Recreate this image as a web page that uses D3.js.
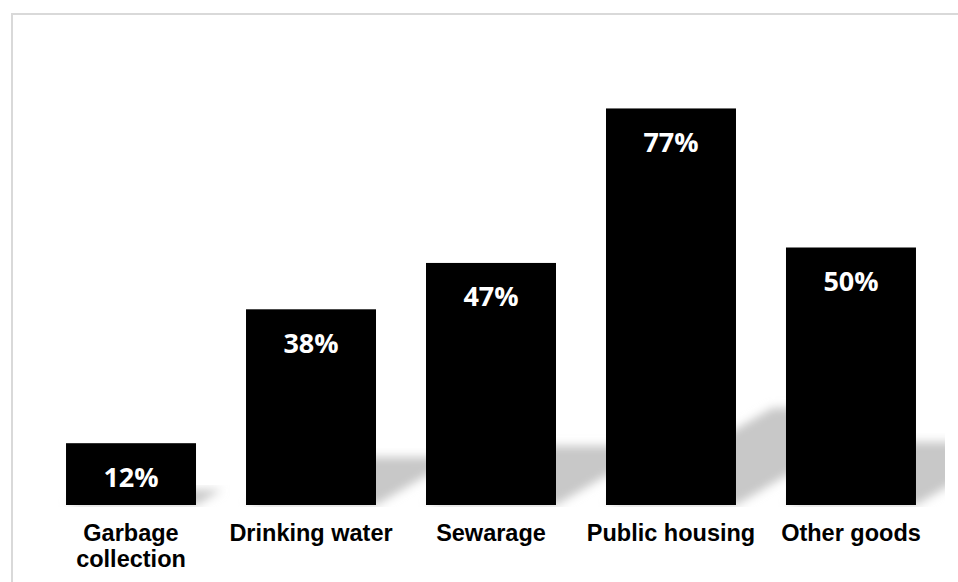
<!DOCTYPE html>
<html>
<head>
<meta charset="utf-8">
<script src="https://cdn.jsdelivr.net/npm/d3@7"></script>
<style>
  html, body { margin: 0; padding: 0; background: #fff; overflow: hidden; }
  svg { display: block; }
</style>
</head>
<body>
<svg id="chart" width="958" height="582"></svg>
<script>
const categories = ["Garbage collection", "Drinking water", "Sewarage", "Public housing", "Other goods"];
const categoryLines = [["Garbage", "collection"], ["Drinking water"], ["Sewarage"], ["Public housing"], ["Other goods"]];
const values = [12, 38, 47, 77, 50];
const valueLabels = ["12%", "38%", "47%", "77%", "50%"];

const svg = d3.select("#chart");
const W = 958, H = 582;

// outer frame
svg.append("rect")
  .attr("x", 12).attr("y", 14)
  .attr("width", 1000).attr("height", 1000)
  .attr("fill", "none")
  .attr("stroke", "#d9d9d9")
  .attr("stroke-width", 2);

const base = 505;
const x = d3.scaleBand()
  .domain(categories)
  .range([41, 941])
  .paddingInner(0.2778)
  .paddingOuter(0.139);
const y = d3.scaleLinear().domain([0, 80]).range([base, base - 412]);

const defs = svg.append("defs");
const f = defs.append("filter").attr("id", "blur")
  .attr("x", "-30%").attr("y", "-30%").attr("width", "160%").attr("height", "160%");
f.append("feGaussianBlur").attr("stdDeviation", 5);
defs.append("clipPath").attr("id", "plotclip")
  .append("rect").attr("x", 20).attr("y", 20).attr("width", 925).attr("height", base - 18);

// perspective shadows
const shadowG = svg.append("g").attr("clip-path", "url(#plotclip)");
shadowG.selectAll("path.shadow")
  .data(categories)
  .join("path")
  .attr("class", "shadow")
  .attr("fill", "#c8c8c8")
  .attr("filter", "url(#blur)")
  .attr("d", (c, i) => {
    const x0 = x(c), x1 = x(c) + x.bandwidth();
    const h = base - y(values[i]);
    const dy = 0.245 * h, dx = 0.42 * h;
    return `M${x0},${base}L${x1},${base}L${x1 + dx},${base - dy}L${x0 + dx},${base - dy}Z`;
  });

// bars
svg.selectAll("rect.bar")
  .data(categories)
  .join("rect")
  .attr("class", "bar")
  .attr("x", c => x(c))
  .attr("width", x.bandwidth())
  .attr("y", (c, i) => y(values[i]))
  .attr("height", (c, i) => base - y(values[i]))
  .attr("fill", "#000");

// value labels
svg.selectAll("text.val")
  .data(categories)
  .join("text")
  .attr("class", "val")
  .attr("x", c => x(c) + x.bandwidth() / 2)
  .attr("y", (c, i) => y(values[i]) + 43.5)
  .attr("text-anchor", "middle")
  .attr("font-family", "'Open Sans', sans-serif")
  .attr("font-weight", 700)
  .attr("font-size", "27px")
  .attr("fill", "#fff")
  .text((c, i) => valueLabels[i]);

// category labels
const cat = svg.selectAll("text.cat")
  .data(categories)
  .join("text")
  .attr("class", "cat")
  .attr("text-anchor", "middle")
  .attr("font-family", "'Liberation Sans', Arial, sans-serif")
  .attr("font-weight", 700)
  .attr("font-size", "23.5px")
  .attr("fill", "#000");
cat.each(function(c, i) {
  const t = d3.select(this);
  categoryLines[i].forEach((line, j) => {
    t.append("tspan")
      .attr("x", x(c) + x.bandwidth() / 2)
      .attr("y", 540.5 + j * 26.5)
      .text(line);
  });
});
</script>
</body>
</html>
